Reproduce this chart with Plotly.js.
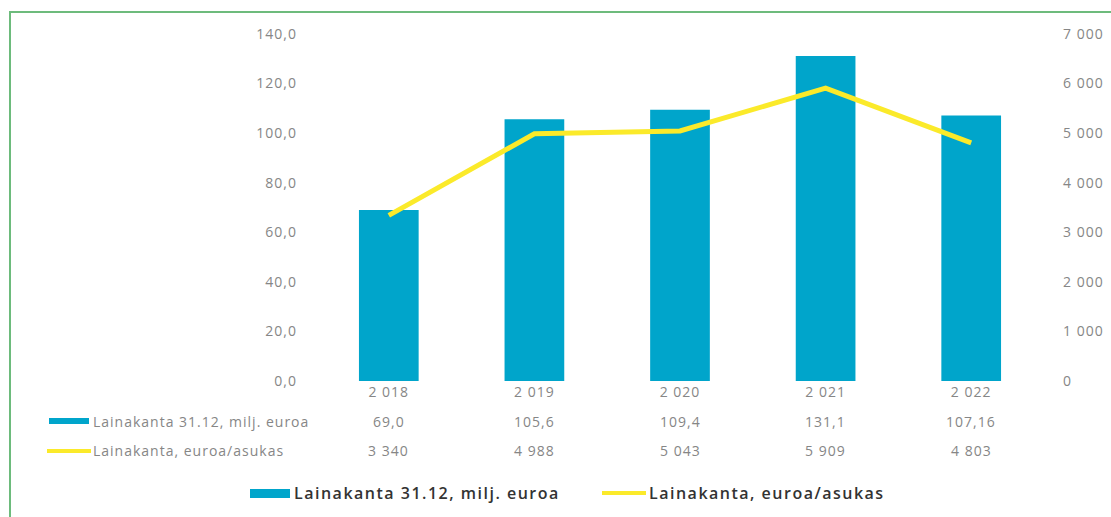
<!DOCTYPE html>
<html>
<head>
<meta charset="utf-8">
<script src="https://cdn.plot.ly/plotly-3.0.1.min.js"></script>
<style>
html,body{margin:0;padding:0;background:#fff;}
#chart{width:1111px;height:517px;}
text{letter-spacing:1px;}
text[style*="font-size: 16px"]{letter-spacing:1.5px;}
</style>
</head>
<body>
<div id="chart"></div>
<script>
const years = ['2 018', '2 019', '2 020', '2 021', '2 022'];
const loanStock = [69.0, 105.6, 109.4, 131.1, 107.16];
const loanPerResident = [3340, 4988, 5043, 5909, 4803];
const seriesNames = ['Lainakanta 31.12, milj. euroa', 'Lainakanta, euroa/asukas'];

const BLUE = '#00a5cb';
const YELLOW = '#fbea2a';
const GREY = '#868686';
const FONT = 'Open Sans, sans-serif';

// plot area in pixels
const L = 316, R = 1044, T = 34, B = 381;
const px = X => (X - L) / (R - L);
const py = Y => (B - Y) / (B - T);

function fmtLoan(v) {
  const dec = (Math.round(v * 100) % 10 !== 0) ? 2 : 1;
  return v.toFixed(dec).replace('.', ',');
}
function fmtInt(v) {
  return String(Math.round(v)).replace(/\B(?=(\d{3})+(?!\d))/g, ' ');
}

const traces = [
  {
    type: 'bar', x: years, y: loanStock, name: seriesNames[0],
    marker: {color: BLUE}, showlegend: false, hoverinfo: 'skip'
  },
  {
    type: 'scatter', mode: 'lines', x: years, y: loanPerResident, yaxis: 'y2',
    name: seriesNames[1], line: {color: YELLOW, width: 5}, showlegend: false, hoverinfo: 'skip'
  }
];

const annotations = [];
const shapes = [];
const tf = {family: FONT, size: 14, color: GREY};

// data table values
years.forEach((yr, i) => {
  annotations.push({xref: 'x', yref: 'paper', x: yr, y: py(421), text: fmtLoan(loanStock[i]),
    showarrow: false, xanchor: 'center', yanchor: 'middle', font: tf});
  annotations.push({xref: 'x', yref: 'paper', x: yr, y: py(450), text: fmtInt(loanPerResident[i]),
    showarrow: false, xanchor: 'center', yanchor: 'middle', font: tf});
});
// table row labels
annotations.push({xref: 'paper', yref: 'paper', x: px(91), y: py(421), text: seriesNames[0],
  showarrow: false, xanchor: 'left', yanchor: 'middle', font: tf});
annotations.push({xref: 'paper', yref: 'paper', x: px(91), y: py(450), text: seriesNames[1],
  showarrow: false, xanchor: 'left', yanchor: 'middle', font: tf});
// table markers
shapes.push({type: 'rect', xref: 'paper', yref: 'paper', x0: px(49), x1: px(89), y0: py(418), y1: py(424),
  fillcolor: BLUE, line: {width: 0}});
shapes.push({type: 'line', xref: 'paper', yref: 'paper', x0: px(47), x1: px(91), y0: py(451), y1: py(451),
  line: {color: YELLOW, width: 4}});

// bottom legend
const lf = {family: FONT, size: 16, color: '#333', weight: 600};
shapes.push({type: 'rect', xref: 'paper', yref: 'paper', x0: px(250), x1: px(290), y0: py(489), y1: py(498),
  fillcolor: BLUE, line: {width: 0}});
annotations.push({xref: 'paper', yref: 'paper', x: px(292), y: py(493), text: seriesNames[0],
  showarrow: false, xanchor: 'left', yanchor: 'middle', font: lf});
shapes.push({type: 'line', xref: 'paper', yref: 'paper', x0: px(602), x1: px(646), y0: py(493), y1: py(493),
  line: {color: YELLOW, width: 4}});
annotations.push({xref: 'paper', yref: 'paper', x: px(647), y: py(493), text: seriesNames[1],
  showarrow: false, xanchor: 'left', yanchor: 'middle', font: lf});

// green frame
shapes.push({type: 'rect', xref: 'paper', yref: 'paper', x0: px(10), x1: px(1125), y0: py(12), y1: py(530),
  line: {color: '#6dbb7c', width: 2}, fillcolor: 'rgba(0,0,0,0)', layer: 'below'});

const af = {family: FONT, size: 14, color: GREY};
const layout = {
  width: 1111, height: 517,
  margin: {l: L, r: 1111 - R, t: T, b: 517 - B, pad: 0},
  paper_bgcolor: '#fff', plot_bgcolor: '#fff',
  separators: ', ',
  bargap: 0.59,
  showlegend: false,
  font: {family: FONT, color: GREY},
  xaxis: {type: 'category', categoryarray: years, showgrid: false, zeroline: false, showline: false,
    ticks: '', tickfont: af, ticklabelstandoff: 1, fixedrange: true},
  yaxis: {range: [0, 140], dtick: 20, tickformat: '.1f', showgrid: false, zeroline: false, showline: false,
    ticks: '', tickfont: af, ticklabelstandoff: 18, fixedrange: true},
  yaxis2: {range: [0, 7000], dtick: 1000, tickformat: ',d', overlaying: 'y', side: 'right', showgrid: false,
    zeroline: false, showline: false, ticks: '', tickfont: af,
    ticklabelstandoff: 18, fixedrange: true},
  annotations: annotations,
  shapes: shapes
};

Plotly.newPlot('chart', traces, layout, {displayModeBar: false, staticPlot: true});
</script>
</body>
</html>
